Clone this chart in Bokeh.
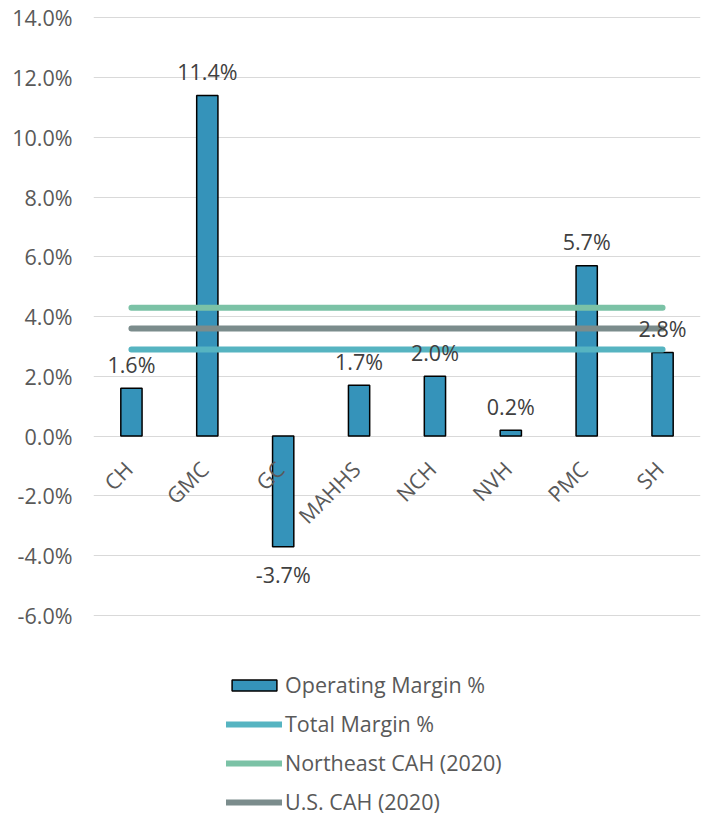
import math
from bokeh.plotting import figure
from bokeh.models import (ColumnDataSource, FactorRange, FixedTicker, Legend, LegendItem,
                          PrintfTickFormatter, Range1d)
from bokeh.core.properties import value
from bokeh.embed import file_html
from bokeh.resources import INLINE

# ---------------- data ----------------
categories = ["CH", "GMC", "GC", "MAHHS", "NCH", "NVH", "PMC", "SH"]
operating_margin = [1.6, 11.4, -3.7, 1.7, 2.0, 0.2, 5.7, 2.8]
total_margin = [2.9, 2.9, 2.9, 2.9, 2.9, 2.9, 2.9, 2.9]
northeast_cah = [4.3, 4.3, 4.3, 4.3, 4.3, 4.3, 4.3, 4.3]
us_cah = [3.6, 3.6, 3.6, 3.6, 3.6, 3.6, 3.6, 3.6]
y_ticks = [-6, -4, -2, 0, 2, 4, 6, 8, 10, 12, 14]

FONT = "Open Sans"
FS = "21.5px"
BAR_COLOR = "#3593BA"
TOTAL_COLOR = "#56B4C1"
NE_COLOR = "#7BC2A6"
US_COLOR = "#7B8C8C"

W, H = 701, 816
# ---------------- figure ----------------
px_per_unit = 29.88
y_end = 14 + 17.3 / px_per_unit
y_start = y_end - H / px_per_unit

p = figure(width=W, height=H, output_backend="svg", toolbar_location=None,
           x_range=FactorRange(*categories, range_padding=0),
           y_range=Range1d(y_start, y_end),
           x_axis_location=None, min_border_left=93, min_border_right=1,
           min_border_top=0, min_border_bottom=0)
p.outline_line_color = None
p.background_fill_color = "white"

ticker = FixedTicker(ticks=y_ticks)
p.yaxis.ticker = ticker
p.yaxis.formatter = PrintfTickFormatter(format="%.1f%%")
p.yaxis.axis_line_color = None
p.yaxis.major_tick_line_color = None
p.yaxis.minor_tick_line_color = None
p.yaxis.major_tick_out = 0
p.yaxis.major_label_standoff = 21
p.yaxis.major_label_text_font = FONT
p.yaxis.major_label_text_font_size = FS
p.yaxis.major_label_text_color = "#595959"

p.xgrid.grid_line_color = None
p.ygrid.ticker = ticker
p.ygrid.grid_line_color = "#D9D9D9"
p.ygrid.grid_line_width = 1

# bars
bars = p.vbar(x=categories, top=operating_margin, width=0.28,
              fill_color=BAR_COLOR, line_color="black", line_width=1.5)

# reference lines
l_total = p.line(x=categories, y=total_margin, line_color=TOTAL_COLOR, line_width=6, line_cap="round")
l_ne = p.line(x=categories, y=northeast_cah, line_color=NE_COLOR, line_width=6, line_cap="round")
l_us = p.line(x=categories, y=us_cah, line_color=US_COLOR, line_width=6, line_cap="round")

# data labels
pos = [(c, v) for c, v in zip(categories, operating_margin) if v >= 0]
neg = [(c, v) for c, v in zip(categories, operating_margin) if v < 0]
src_pos = ColumnDataSource(dict(x=[c for c, _ in pos], y=[v for _, v in pos],
                                t=[f"{v:.1f}%" for _, v in pos]))
src_neg = ColumnDataSource(dict(x=[c for c, _ in neg], y=[v for _, v in neg],
                                t=[f"{v:.1f}%" for _, v in neg]))
p.text(x="x", y="y", text="t", source=src_pos, text_align="center",
       text_baseline="alphabetic", y_offset=-24, text_font=value(FONT),
       text_font_size=FS, text_color="#404040")
p.text(x="x", y="y", text="t", source=src_neg, text_align="center",
       text_baseline="top", y_offset=13, text_font=value(FONT),
       text_font_size=FS, text_color="#404040")

# category labels (axis crosses at zero)
axis_y = [0.0] * len(categories)
p.text(x=categories, y=axis_y, text=categories, angle=math.pi / 4,
       text_align="right", text_baseline="middle", x_offset=-3, y_offset=29,
       text_font=value(FONT), text_font_size=FS, text_color="#595959")

# legend
legend = Legend(items=[
    LegendItem(label="Operating Margin %", renderers=[bars]),
    LegendItem(label="Total Margin %", renderers=[l_total]),
    LegendItem(label="Northeast CAH (2020)", renderers=[l_ne]),
    LegendItem(label="U.S. CAH (2020)", renderers=[l_us]),
], location=(133, 0))
legend.padding = 0
legend.margin = 0
legend.border_line_color = None
legend.background_fill_alpha = 0
legend.glyph_width = 56
legend.glyph_height = 14
legend.label_height = 18
legend.spacing = 10
legend.label_standoff = 3
legend.label_text_font = FONT
legend.label_text_font_size = FS
legend.label_text_color = "#595959"
p.add_layout(legend)

open("out.html", "w").write(file_html(p, INLINE))
